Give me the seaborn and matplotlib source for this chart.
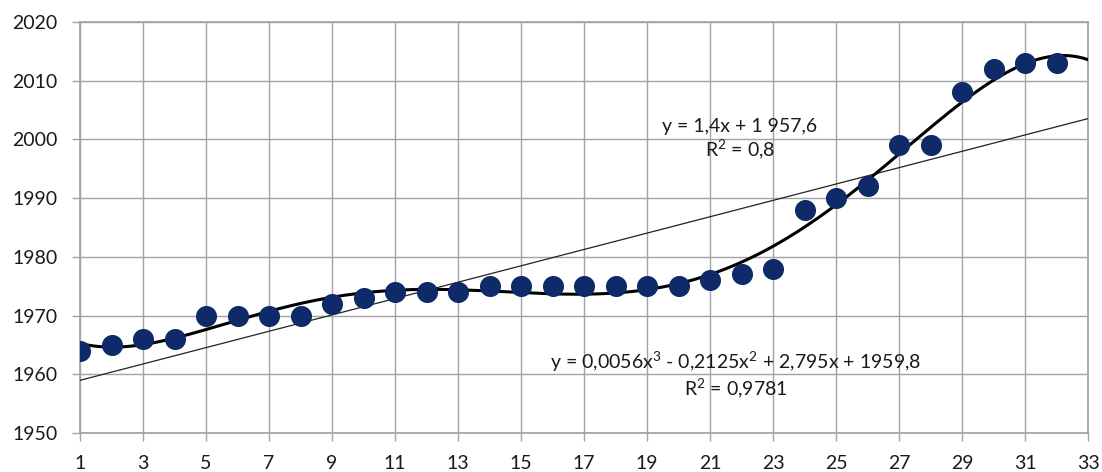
import numpy as np
import pandas as pd
import matplotlib
matplotlib.use("Agg")
import matplotlib.pyplot as plt
import seaborn as sns

# Data
x_vals = list(range(1, 33))
y_vals = [1964, 1965, 1966, 1966, 1970, 1970, 1970, 1970, 1972, 1973,
          1974, 1974, 1974, 1975, 1975, 1975, 1975, 1975, 1975, 1975,
          1976, 1977, 1978, 1988, 1990, 1992, 1999, 1999, 2008, 2012,
          2013, 2013]
x_ticks = list(range(1, 34, 2))
y_ticks = list(range(1950, 2021, 10))
lin_label = "y = 1,4x + 1 957,6\nR$^2$ = 0,8"
poly_label = "y = 0,0056x$^3$ - 0,2125x$^2$ + 2,795x + 1959,8\nR$^2$ = 0,9781"

df = pd.DataFrame({"x": x_vals, "y": y_vals})

# trend lines fitted to the points, drawn forward to x=33
xs = np.linspace(1, 33, 400)
lin = np.polyval(np.polyfit(df.x, df.y, 1), xs)
poly = np.polyval(np.polyfit(df.x, df.y, 5), xs)

sns.set_theme(style="white")
plt.rcParams["font.family"] = ["Lato", "DejaVu Sans"]
plt.rcParams["mathtext.fontset"] = "custom"
plt.rcParams["mathtext.rm"] = "Lato"

fig = plt.figure(figsize=(11.02, 4.72), dpi=100)
ax = fig.add_axes([0.0726, 0.0826, 0.9147, 0.8708])

sns.lineplot(x=xs, y=lin, ax=ax, color="#222222", linewidth=0.9, zorder=3)
sns.lineplot(x=xs, y=poly, ax=ax, color="black", linewidth=2.2, zorder=4)
sns.scatterplot(data=df, x="x", y="y", ax=ax, color="#0f2a68", s=230,
                edgecolor="#0f2a68", linewidth=0, zorder=5)

ax.set_xlim(1, 33)
ax.set_ylim(1950, 2020)
ax.set_xticks(x_ticks)
ax.set_yticks(y_ticks)
ax.grid(True, color="#a3a3a3", linewidth=1)
ax.set_axisbelow(True)
for s in ax.spines.values():
    s.set_color("#a3a3a3")
ax.tick_params(axis="both", length=6, width=1, color="#a3a3a3",
               labelsize=14, labelcolor="#1a1a1a", direction="out")
ax.tick_params(axis="y", pad=10)
ax.tick_params(axis="x", pad=10)
ax.xaxis.set_ticks_position("bottom")
ax.yaxis.set_ticks_position("left")
ax.set_xlabel("")
ax.set_ylabel("")

ax.text(21.95, 1996.2, lin_label, ha="center", va="bottom", fontsize=14,
        color="#1a1a1a", linespacing=1.15)
ax.text(21.83, 1955.4, poly_label, ha="center", va="bottom", fontsize=14,
        color="#1a1a1a", linespacing=1.15)

fig.savefig("out.png", dpi=100)
